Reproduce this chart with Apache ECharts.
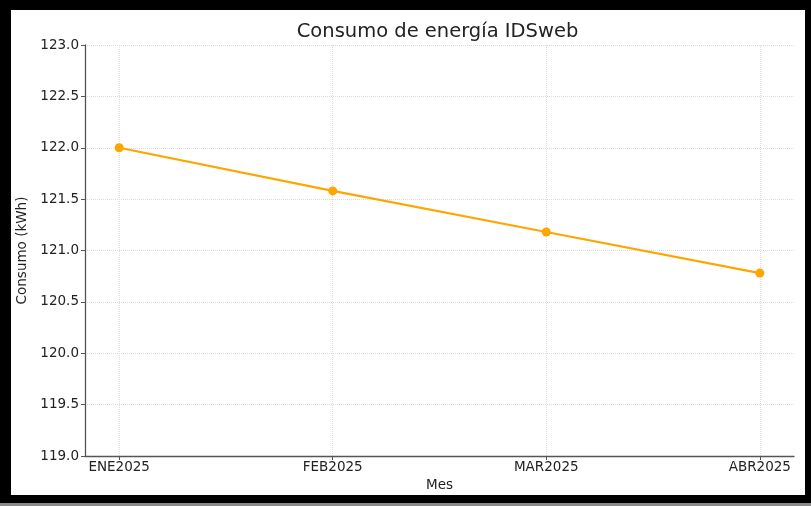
<!DOCTYPE html>
<html>
<head>
<meta charset="utf-8">
<script src="https://cdn.jsdelivr.net/npm/echarts@6/dist/echarts.min.js"></script>
<style>
html,body{margin:0;padding:0;width:811px;height:506px;overflow:hidden;background:#000;}
#frame{position:absolute;left:0;top:503px;width:811px;height:3px;background:#8a8a8a;}
#chart{position:absolute;left:11px;top:10px;width:794px;height:485px;background:#fff;}
</style>
</head>
<body>
<div id="frame"></div>
<div id="chart"></div>
<script>
const categories = ['ENE2025', 'FEB2025', 'MAR2025', 'ABR2025'];
const consumo = [122.0, 121.58, 121.18, 120.78];
const yTicks = [119.0, 119.5, 120.0, 120.5, 121.0, 121.5, 122.0, 122.5, 123.0];

const font = 'DejaVu Sans';
const fs = 13.5;
const chart = echarts.init(document.getElementById('chart'));
const idx = categories.map((c, i) => i);
chart.setOption({
  animation: false,
  graphic: [{
    type: 'text', x: 426.5, y: 22,
    style: {text: 'Consumo de energía IDSweb', align: 'center', verticalAlign: 'middle',
      fontFamily: font, fontSize: 19.5, fill: '#222'}
  }],
  grid: {left: 74, right: 11, top: 35, bottom: 39, outerBoundsMode: 'none', containLabel: false},
  xAxis: {
    type: 'value', min: -0.16, max: 3.16,
    name: 'Mes', nameLocation: 'middle', nameGap: 21,
    nameTextStyle: {fontFamily: font, fontSize: fs, color: '#222'},
    axisLine: {show: true, onZero: false, lineStyle: {color: '#555', width: 1.3}},
    axisTick: {show: true, length: 4, customValues: idx, lineStyle: {color: '#555'}},
    axisLabel: {customValues: idx, fontFamily: font, fontSize: fs, color: '#222', margin: 4,
      formatter: v => categories[Math.round(v)]},
    splitLine: {show: true, lineStyle: {color: '#dcdcdc', type: 'dotted', width: 1}}
  },
  yAxis: {
    type: 'value', min: yTicks[0], max: yTicks[yTicks.length - 1], interval: 0.5,
    name: 'Consumo (kWh)', nameLocation: 'middle', nameGap: 53,
    nameTextStyle: {fontFamily: font, fontSize: fs, color: '#222'},
    axisLine: {show: true, onZero: false, lineStyle: {color: '#555', width: 1.3}},
    axisTick: {show: true, length: 4, lineStyle: {color: '#555'}},
    axisLabel: {fontFamily: font, fontSize: fs, color: '#222', margin: 6,
      formatter: v => v.toFixed(1)},
    splitLine: {show: true, lineStyle: {color: '#dcdcdc', type: 'dotted', width: 1}}
  },
  series: [{
    type: 'line',
    data: consumo.map((v, i) => [i, v]),
    symbol: 'circle', symbolSize: 9,
    lineStyle: {color: '#FFA500', width: 2.2},
    itemStyle: {color: '#FFA500'}
  }]
});
</script>
</body>
</html>
